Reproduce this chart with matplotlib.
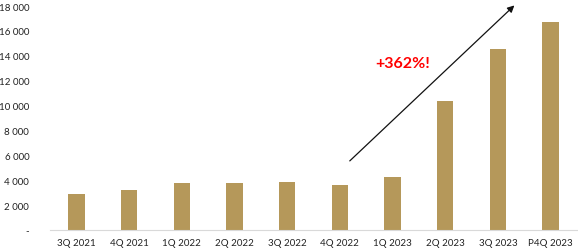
import matplotlib.pyplot as plt
import numpy as np

plt.rcParams['font.family'] = ['Lato', 'DejaVu Sans']

quarters = ['3Q 2021', '4Q 2021', '1Q 2022', '2Q 2022', '3Q 2022',
            '4Q 2022', '1Q 2023', '2Q 2023', '3Q 2023', 'P4Q 2023']
values = [2900, 3200, 3780, 3770, 3850, 3620, 4250, 10380, 14550, 16720]
yticks = [0, 2000, 4000, 6000, 8000, 10000, 12000, 14000, 16000, 18000]
ytick_labels = ['-' if v == 0 else f'{v:,}'.replace(',', ' ') for v in yticks]

fig = plt.figure(figsize=(5.78, 2.53), dpi=100)
ax = fig.add_axes([50 / 578, 22 / 253, 527 / 578, 224 / 253])

x = np.arange(len(quarters))
ax.bar(x, values, width=0.31, color='#B5985A', zorder=2)

ax.set_xlim(-0.5, len(quarters) - 0.5)
ax.set_ylim(0, 18000)
ax.set_xticks(x)
ax.set_xticklabels(quarters, fontsize=7, color='#222222')
ax.set_yticks(yticks)
ax.set_yticklabels(ytick_labels, fontsize=7, color='#222222')
ax.tick_params(axis='x', length=0, pad=6)
ax.tick_params(axis='y', length=0, pad=15)

for s in ['top', 'right', 'left']:
    ax.spines[s].set_visible(False)
ax.spines['bottom'].set_color('#D9D9D9')

ax.annotate('', xy=(8.35, 18200), xytext=(5.15, 5400),
            arrowprops=dict(arrowstyle='-|>', color='#111111', lw=0.9,
                            mutation_scale=10),
            annotation_clip=False)
ax.text(6.19, 13400, '+362%!', color='#FF0000', fontsize=11.5,
        fontweight='bold', ha='center', va='center')

fig.savefig('out.png', dpi=100)
